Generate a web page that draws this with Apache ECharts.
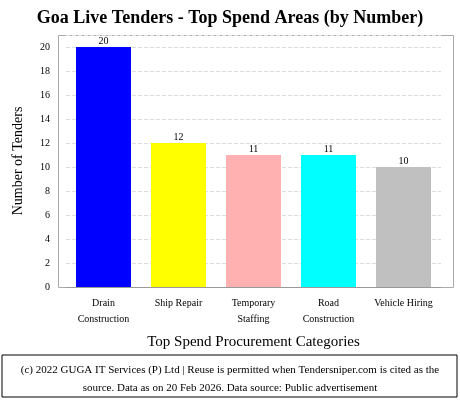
<!DOCTYPE html><html><head><meta charset="utf-8"><script src="https://cdn.jsdelivr.net/npm/echarts@6/dist/echarts.min.js"></script>
<style>body{margin:0}#c{width:460px;height:400px}</style></head><body><div id="c"></div><script>
const categories=["Drain\nConstruction","Ship Repair","Temporary\nStaffing","Road\nConstruction","Vehicle Hiring"];
const values=[20,12,11,11,10];
const colors=["#0000ff","#ffff00","#ffb0b0","#00ffff","#c0c0c0"];
const F="Liberation Serif";
const c=echarts.init(document.getElementById('c'));
c.setOption({animation:false,
title:{text:"Goa Live Tenders - Top Spend Areas (by Number)",left:'center',top:4,textStyle:{fontFamily:F,fontSize:18,fontWeight:'bold',color:'#000'}},
grid:{left:66,right:19,top:35,bottom:113},
xAxis:{type:'category',data:categories,name:"Top Spend Procurement Categories",nameLocation:'middle',nameGap:48,nameTextStyle:{fontFamily:F,fontSize:15,color:'#000'},
axisLine:{lineStyle:{color:'#999'}},axisTick:{show:false},axisLabel:{fontFamily:F,fontSize:10,color:'#000',lineHeight:16,interval:0,margin:8}},
yAxis:{type:'value',min:0,max:21,interval:2,name:"Number of Tenders",nameLocation:'middle',nameGap:41,nameTextStyle:{fontFamily:F,fontSize:14,color:'#000'},
axisLine:{show:false},axisTick:{show:false},
axisLabel:{fontFamily:F,fontSize:10,color:'#000',margin:16,formatter:v=>v%2===0&&v<=20?String(v):''},
splitLine:{lineStyle:{type:'dashed',color:'#ddd'}}},
series:[{type:'bar',data:values.map((v,i)=>({value:v,itemStyle:{color:colors[i]}})),barWidth:55,
label:{show:true,position:'top',distance:1,fontFamily:F,fontSize:10,color:'#000'}}],
graphic:[{type:'rect',shape:{x:58.5,y:35.5,width:395,height:252},style:{fill:'none',stroke:'#aaa',lineWidth:1}},
{type:'rect',shape:{x:2,y:355,width:455,height:42},style:{fill:'#fff',stroke:'#000',lineWidth:1}},
{type:'text',x:230,y:370,style:{text:"(c) 2022 GUGA IT Services (P) Ltd | Reuse is permitted when Tendersniper.com is cited as the",font:"11px 'Liberation Serif'",fill:'#000',align:'center',verticalAlign:'middle'}},
{type:'text',x:230,y:388,style:{text:"source. Data as on 20 Feb 2026. Data source: Public advertisement",font:"11px 'Liberation Serif'",fill:'#000',align:'center',verticalAlign:'middle'}}]
});
</script></body></html>
